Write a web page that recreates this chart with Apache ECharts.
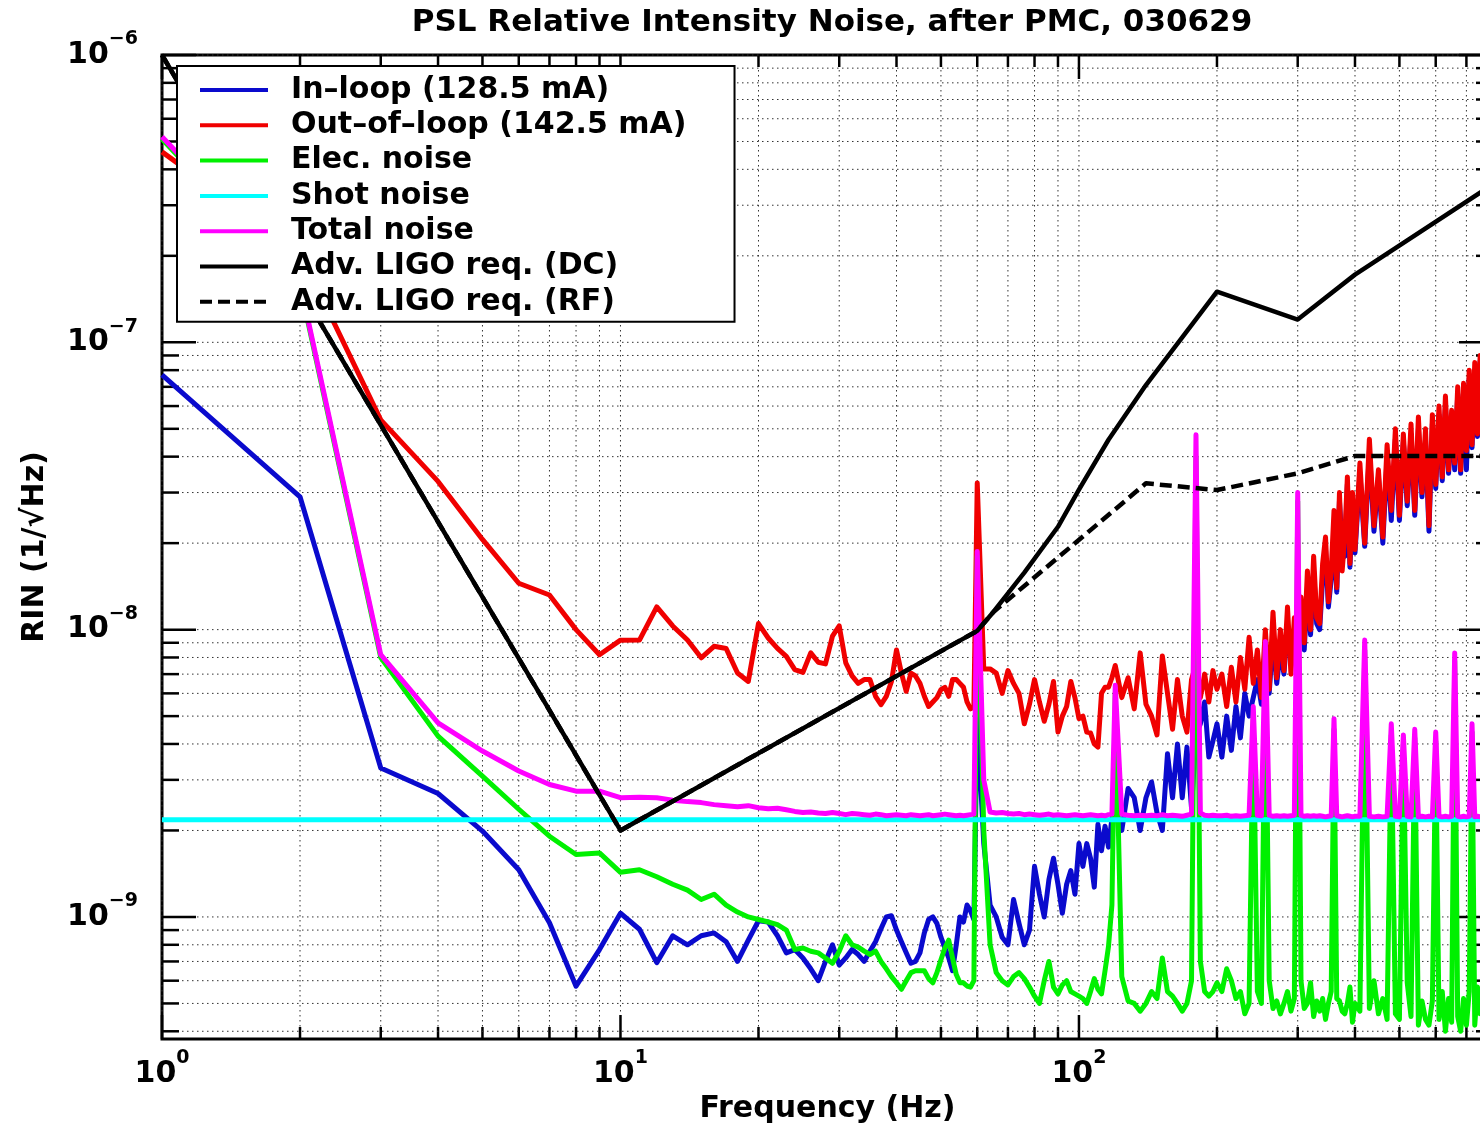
<!DOCTYPE html>
<html>
<head>
    <meta charset="utf-8">
    <title>PSL Relative Intensity Noise</title>
    <script src="https://cdn.jsdelivr.net/npm/echarts@6/dist/echarts.min.js"></script>
    <style>
        html, body { margin: 0; padding: 0; background: #fff; }
        #main { width: 1480px; height: 1126px; }
    </style>
</head>
<body>
<div id="main"></div>
<script type="text/javascript">
// frequency grid (Hz) shared by the measured spectra
var freqHz = [
    1, 2, 3, 4, 5, 6, 7, 8, 9, 10, 11, 12, 13, 14, 15, 16, 17, 18, 19, 20,
    21, 22, 23, 24, 25, 26, 27, 28, 29, 30, 31, 32, 33, 34, 35, 36, 37, 38, 39, 40,
    41, 42, 43, 44, 45, 46, 47, 48, 49, 50, 51, 52, 53, 54, 55, 56, 57, 58, 59, 60,
    62, 64, 66, 68, 70, 72, 74, 76, 78, 80, 82, 84, 86, 88, 90, 92, 94, 96, 98, 100,
    102, 104, 106, 108, 110, 112, 114, 116, 118, 120,
    124, 128, 132, 136, 140, 144, 148, 152, 156, 160, 164, 168, 172, 176, 180, 184, 188, 192, 196, 200,
    205, 210, 215, 220, 225, 230, 235, 240, 245, 250, 255, 260, 265, 270, 275, 280, 285, 290, 295, 300,
    305, 310, 315, 320, 325, 330, 335, 340, 345, 350, 355, 360, 365, 370, 375, 380, 385, 390, 395, 400,
    410, 420, 430, 440, 450, 460, 470, 480, 490, 500, 510, 520, 530, 540, 550, 560, 570, 580, 590, 600,
    610, 620, 630, 640, 650, 660, 670, 680, 690, 700, 710, 720, 730, 740, 750, 760
];

// spectra, in units of 1e-9 /sqrt(Hz)
var UNIT = 1e-9;
var inLoop = [
    77, 29, 3.3, 2.69, 1.99, 1.46, 0.955, 0.574, 0.77, 1.03,
    0.906, 0.693, 0.86, 0.80, 0.86, 0.88, 0.82, 0.70, 0.83, 0.97,
    0.96, 0.86, 0.75, 0.77, 0.72, 0.66, 0.60, 0.70, 0.80, 0.68,
    0.72, 0.77, 0.74, 0.70, 0.76, 0.82, 0.91, 1.0, 1.01, 0.90,
    0.82, 0.75, 0.69, 0.70, 0.75, 0.88, 0.98, 1.0, 0.95, 0.85,
    0.78, 0.72, 0.65, 0.80, 1.0, 0.96, 1.1, 1.05, 0.98, 5.0,
    1.8, 1.1, 1.0, 0.85, 0.8, 1.15, 0.95, 0.8, 0.9, 1.5,
    1.2, 1.0, 1.35, 1.6, 1.3, 1.03, 1.3, 1.45, 1.2, 1.8,
    1.5, 1.8, 1.6, 1.27, 2.1, 1.7, 2.07, 1.75, 2.2, 2.4,
    2.0, 2.8, 2.6, 2.0, 2.6, 2.95, 2.3, 2.0, 3.7, 2.6,
    4.0, 2.6, 3.9, 2.4, 4.3, 4.7, 5.6, 3.6, 4.1, 4.7,
    3.6, 5.0, 3.8, 5.4, 4.2, 6.0, 5.0, 5.8, 6.7, 5.5,
    8.0, 6.0, 9.5, 6.5, 8.5, 7.0, 10.5, 7.7, 9.0, 8.7,
    12.0, 8.5, 14.0, 9.6, 16.0, 10.5, 10.0, 15.0, 19.0, 12.0,
    15.0, 22.0, 13.5, 28.0, 19.4, 18.0, 32.0, 16.5, 27.0, 18.5,
    35, 19.5, 42, 22, 34, 20, 40, 24, 46, 24,
    45, 27, 48, 25, 50, 29, 46, 22, 52, 31,
    56, 33, 60, 35, 55, 36, 66, 35, 68, 36,
    75, 43, 80, 47, 86, 53
];
var outOfLoop = [
    460, 206, 53.7, 32.8, 20.6, 14.5, 13.2, 10.0, 8.18, 9.19,
    9.2, 12.0, 10.3, 9.2, 7.98, 8.75, 8.6, 7.06, 6.6, 10.5,
    9.35, 8.6, 8.07, 7.26, 7.1, 8.3, 7.7, 7.6, 9.5, 10.3,
    7.66, 6.9, 6.5, 6.7, 6.7, 5.86, 5.48, 5.86, 6.6, 8.5,
    7.06, 6.1, 7.06, 6.9, 6.5, 5.86, 5.4, 5.6, 5.8, 6.18,
    6.3, 5.86, 6.7, 6.7, 6.5, 6.3, 5.6, 5.3, 5.4, 32.4,
    7.3, 7.3, 7.06, 6.0, 7.2, 6.5, 6.0, 4.7, 5.5, 6.7,
    5.6, 4.8, 5.5, 6.6, 4.4, 5.0, 5.4, 6.6, 5.8, 4.9,
    5.0, 4.4, 4.37, 4.0, 3.9, 6.0, 6.3, 6.3, 6.8, 7.5,
    5.8, 6.8, 5.3, 8.3, 5.5, 5.0, 4.3, 8.1, 6.0, 4.5,
    6.7, 5.0, 4.4, 6.7, 7.6, 5.8, 7.0, 5.6, 7.2, 6.2,
    7.0, 5.4, 7.4, 5.6, 8.0, 6.2, 9.4, 6.5, 8.5, 5.8,
    10.0, 6.2, 11.5, 6.8, 10.0, 7.2, 12.0, 7.0, 11.0, 8.0,
    13.0, 9.0, 16.0, 10.0, 18.0, 11.0, 10.5, 17.0, 21.0, 12.5,
    16.0, 26.0, 14.0, 30.0, 16.0, 21.0, 34.0, 17.0, 30.0, 19.0,
    38, 20, 46, 23, 36, 21, 44, 26, 50, 25,
    48, 28, 52, 26, 55, 30, 50, 23, 56, 32,
    60, 34, 65, 36, 58, 38, 70, 36, 72, 42,
    80, 44, 85, 48, 90, 55
];
var elecNoise = [
    510, 158, 8.0, 4.26, 3.09, 2.37, 1.91, 1.65, 1.67, 1.43,
    1.46, 1.38, 1.30, 1.24, 1.15, 1.20, 1.10, 1.04, 1.00, 0.98,
    0.96, 0.94, 0.90, 0.77, 0.78, 0.76, 0.75, 0.72, 0.69, 0.76,
    0.86, 0.80, 0.785, 0.76, 0.74, 0.76, 0.70, 0.66, 0.62, 0.59,
    0.56, 0.60, 0.64, 0.65, 0.65, 0.65, 0.61, 0.59, 0.64, 0.71,
    0.78, 0.83, 0.72, 0.63, 0.59, 0.59, 0.575, 0.57, 0.60, 18.0,
    2.0, 0.8, 0.64, 0.6, 0.58, 0.62, 0.64, 0.61, 0.57, 0.53,
    0.50, 0.6, 0.70, 0.57, 0.54, 0.58, 0.6, 0.55, 0.54, 0.53,
    0.52, 0.50, 0.55, 0.61, 0.56, 0.54, 0.65, 0.79, 1.1, 6.0,
    0.62, 0.51, 0.50, 0.47, 0.50, 0.55, 0.52, 0.72, 0.55, 0.53,
    0.50, 0.47, 0.5, 0.6, 40, 0.7, 0.55, 0.53, 0.55, 0.59,
    0.55, 0.66, 0.6, 0.52, 0.55, 0.46, 0.5, 5.0, 0.55, 0.5,
    8.5, 0.6, 0.48, 0.51, 0.46, 0.5, 0.55, 0.47, 0.52, 28,
    0.6, 0.48, 0.5, 0.59, 0.45, 0.51, 0.47, 0.52, 0.44, 0.5,
    0.55, 4.5, 0.52, 0.51, 0.47, 0.46, 0.5, 0.57, 0.43, 0.5,
    0.47, 8.5, 0.48, 0.6, 0.46, 0.52, 0.44, 4.3, 0.46, 0.44,
    4.0, 0.59, 0.45, 4.2, 0.42, 0.51, 0.44, 0.42, 0.51, 4.1,
    0.44, 0.55, 0.4, 0.52, 0.43, 7.8, 0.45, 0.40, 0.52, 0.42,
    0.55, 4.4, 0.42, 0.57, 0.46, 0.5
];
var totalNoise = [
    519, 161, 8.18, 4.74, 3.78, 3.22, 2.89, 2.74, 2.74, 2.60,
    2.61, 2.60, 2.55, 2.52, 2.50, 2.46, 2.44, 2.42, 2.44, 2.40,
    2.38, 2.39, 2.36, 2.33, 2.31, 2.32, 2.30, 2.29, 2.31, 2.29,
    2.27, 2.29, 2.28, 2.27, 2.26, 2.28, 2.27, 2.25, 2.26, 2.27,
    2.26, 2.25, 2.27, 2.26, 2.25, 2.26, 2.27, 2.25, 2.26, 2.27,
    2.28, 2.27, 2.26, 2.25, 2.26, 2.25, 2.26, 2.27, 2.28, 18.7,
    3.0, 2.32, 2.30, 2.31, 2.29, 2.28, 2.29, 2.27, 2.28, 2.27,
    2.26, 2.27, 2.28, 2.26, 2.27, 2.26, 2.25, 2.26, 2.27, 2.26,
    2.25, 2.26, 2.27, 2.26, 2.25, 2.26, 2.25, 2.27, 2.28, 6.4,
    2.28, 2.26, 2.25, 2.26, 2.25, 2.26, 2.25, 2.27, 2.25, 2.26,
    2.25, 2.24, 2.26, 2.28, 47.7, 2.3, 2.26, 2.25, 2.26, 2.25,
    2.25, 2.26, 2.24, 2.25, 2.24, 2.25, 2.26, 5.4, 2.26, 2.25,
    9.1, 2.26, 2.24, 2.25, 2.24, 2.25, 2.24, 2.25, 2.26, 30,
    2.26, 2.24, 2.25, 2.24, 2.25, 2.24, 2.25, 2.24, 2.23, 2.24,
    2.25, 4.9, 2.25, 2.24, 2.23, 2.24, 2.25, 2.24, 2.23, 2.24,
    2.24, 9.2, 2.24, 2.23, 2.24, 2.23, 2.24, 4.7, 2.24, 2.23,
    4.3, 2.24, 2.23, 4.5, 2.23, 2.24, 2.23, 2.24, 2.23, 4.4,
    2.24, 2.23, 2.24, 2.23, 2.24, 8.3, 2.24, 2.23, 2.24, 2.23,
    2.24, 4.7, 2.23, 2.24, 2.23, 2.24
];
var shotNoise = 2.18e-9;
var shotFreq = [1, 800];

// Advanced LIGO requirements
var dcFreq = [1, 10, 60, 65, 76, 90, 100, 116, 140, 200, 300, 400, 800];
var dcReq = [1e-6, 2.0e-9, 9.9e-9, 1.15e-8, 1.58e-8, 2.28e-8, 3.07e-8, 4.58e-8, 7.1e-8, 1.5e-7, 1.2e-7, 1.72e-7, 3.55e-7];
var rfFreq = [1, 10, 60, 65, 140, 200, 300, 400, 800];
var rfReq = [1e-6, 2.0e-9, 9.9e-9, 1.15e-8, 3.23e-8, 3.06e-8, 3.5e-8, 4.02e-8, 4.02e-8];

// tick / grid positions
var xTicks = [1, 2, 3, 4, 5, 6, 7, 8, 9, 10, 20, 30, 40, 50, 60, 70, 80, 90, 100, 200, 300, 400, 500, 600, 700];
var yTicks = [4e-10, 5e-10, 6e-10, 7e-10, 8e-10, 9e-10,
    1e-9, 2e-9, 3e-9, 4e-9, 5e-9, 6e-9, 7e-9, 8e-9, 9e-9,
    1e-8, 2e-8, 3e-8, 4e-8, 5e-8, 6e-8, 7e-8, 8e-8, 9e-8,
    1e-7, 2e-7, 3e-7, 4e-7, 5e-7, 6e-7, 7e-7, 8e-7, 9e-7, 1e-6];

var FONT = 'DejaVu Sans';

function pairs(xs, ys, scale) {
    return xs.map(function (x, i) { return [x, ys[i] * scale]; });
}
function isDecade(v) {
    var e = Math.log10(v);
    return Math.abs(e - Math.round(e)) < 1e-6;
}
function powerLabel(v) {
    if (!isDecade(v)) return '';
    var e = Math.round(Math.log10(v));
    return '{b|10}{e|' + (e < 0 ? '\u2212' + (-e) : e) + '}';
}
var supRich = {
    b: { fontFamily: FONT, fontWeight: 'bold', fontSize: 30, lineHeight: 50, color: '#000' },
    e: { fontFamily: FONT, fontWeight: 'bold', fontSize: 19, lineHeight: 19, color: '#000', verticalAlign: 'top' }
};

var gridData = [];
xTicks.forEach(function (v) { gridData.push([v, 1e-8, 0]); });
yTicks.forEach(function (v) { gridData.push([10, v, 1]); });

function renderGrid(params, api) {
    var cs = params.coordSys;
    var left = cs.x, right = cs.x + cs.width, top = cs.y, bottom = cs.y + cs.height;
    var dot = { stroke: '#333', lineWidth: 1, lineDash: [1.5, 3.5] };
    var tk = { stroke: '#000', lineWidth: 2.5 };
    var p, len;
    if (api.value(2) === 0) {
        var xv = api.value(0);
        p = api.coord([xv, 1e-8])[0];
        len = isDecade(xv) ? 24 : 12;
        return { type: 'group', children: [
            { type: 'line', shape: { x1: p, y1: top, x2: p, y2: bottom }, style: dot },
            { type: 'line', shape: { x1: p, y1: bottom, x2: p, y2: bottom - len }, style: tk },
            { type: 'line', shape: { x1: p, y1: top, x2: p, y2: top + len }, style: tk }
        ] };
    }
    var yv = api.value(1);
    p = api.coord([10, yv])[1];
    len = isDecade(yv) ? 34 : 17;
    return { type: 'group', children: [
        { type: 'line', shape: { x1: left, y1: p, x2: right, y2: p }, style: dot },
        { type: 'line', shape: { x1: left, y1: p, x2: left + len, y2: p }, style: tk },
        { type: 'line', shape: { x1: right, y1: p, x2: right - len, y2: p }, style: tk }
    ] };
}

function lineSeries(name, data, color, width, type) {
    return {
        name: name, type: 'line', data: data, color: color,
        symbol: 'none', showSymbol: false, silent: true,
        lineStyle: { color: color, width: width, type: type || 'solid', join: 'round' }
    };
}

var names = ['In\u2013loop (128.5 mA)', 'Out\u2013of\u2013loop (142.5 mA)', 'Elec. noise', 'Shot noise',
    'Total noise', 'Adv. LIGO req. (DC)', 'Adv. LIGO req. (RF)'];

var myChart = echarts.init(document.getElementById('main'));

var option = {
    animation: false,
    backgroundColor: '#fff',
    title: {
        text: 'PSL Relative Intensity Noise, after PMC, 030629',
        left: 827, top: 2, textAlign: 'center',
        textStyle: { fontFamily: FONT, fontWeight: 'bold', fontSize: 31, color: '#000' }
    },
    legend: {
        data: names, orient: 'vertical', left: 177, top: 66,
        backgroundColor: '#fff', borderColor: '#000', borderWidth: 2,
        padding: [9, 48, 5, 21], itemGap: 5.3, itemWidth: 68, itemHeight: 14,
        itemStyle: { color: 'transparent', borderColor: 'transparent', borderWidth: 0 },
        lineStyle: { width: 4 },
        textStyle: { fontFamily: FONT, fontWeight: 'bold', fontSize: 30, lineHeight: 30, color: '#000', padding: [0, 0, 0, 18] }
    },
    grid: {
        left: 162, top: 55, width: 1331, height: 984, outerBoundsMode: 'none',
        show: true, borderColor: '#000', borderWidth: 3
    },
    xAxis: {
        type: 'log', logBase: 10, min: 1, max: 800,
        axisLine: { show: false }, axisTick: { show: false }, splitLine: { show: false },
        axisLabel: { margin: 10, formatter: powerLabel, rich: supRich },
        name: 'Frequency (Hz)', nameLocation: 'middle', nameGap: 53,
        nameTextStyle: { fontFamily: FONT, fontWeight: 'bold', fontSize: 30, color: '#000' }
    },
    yAxis: {
        type: 'log', logBase: 10, min: 3.76e-10, max: 1e-6,
        axisLine: { show: false }, axisTick: { show: false }, splitLine: { show: false },
        axisLabel: { margin: 24, formatter: powerLabel, rich: supRich },
        name: 'RIN (1/\u221AHz)', nameLocation: 'middle', nameGap: 112,
        nameTextStyle: { fontFamily: FONT, fontWeight: 'bold', fontSize: 30, color: '#000' }
    },
    series: [
        { type: 'custom', silent: true, renderItem: renderGrid, data: gridData, z: 1 },
        lineSeries(names[0], pairs(freqHz, inLoop, UNIT), '#0a0acd', 5),
        lineSeries(names[1], pairs(freqHz, outOfLoop, UNIT), '#f00000', 5),
        lineSeries(names[2], pairs(freqHz, elecNoise, UNIT), '#00f000', 5),
        lineSeries(names[3], shotFreq.map(function (f) { return [f, shotNoise]; }), '#00ffff', 5),
        lineSeries(names[4], pairs(freqHz, totalNoise, UNIT), '#ff00ff', 5),
        lineSeries(names[5], pairs(dcFreq, dcReq, 1), '#000000', 4.5),
        lineSeries(names[6], pairs(rfFreq, rfReq, 1), '#000000', 4.5, [12, 6])
    ]
};

myChart.setOption(option);
</script>
</body>
</html>
